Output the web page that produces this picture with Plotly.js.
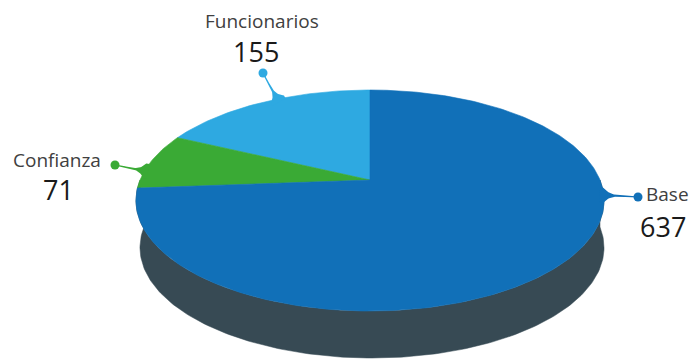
<!DOCTYPE html>
<html>
<head>
<meta charset="utf-8">
<script src="https://cdn.plot.ly/plotly-3.0.1.min.js"></script>
<style>html,body{margin:0;padding:0;background:#fff;}#chart{width:691px;height:362px;}</style>
</head>
<body>
<div id="chart"></div>
<script>
// ---- data ----
const categories = ['Funcionarios', 'Confianza', 'Base'];
const values = [155, 71, 637];
const sliceColors = ['#2ea9e1', '#3aaa35', '#1170b8'];
const sideColor = '#374a54';

// ---- geometry / style (not data) ----
const geo = { cx: 370, cy: 180, A: 230, B: 106.7, b: 0.1856, startDeg: 90,
              depth: 47, bcx: 372, bA: 228 };
// label placement: rim anchor angle (deg), dot position, text positions
const labelCfg = [
  { rim: 118, dot: [263, 73], name: [262, 21, 'center'], val: [256, 51, 'center'] },
  { rim: 175, dot: [115, 165], name: [57, 160, 'center'], val: [58, 189, 'center'] },
  { rim: 352, dot: [638, 197], name: [644, 194, 'left'], val: [638, 226, 'left'] }
];

function proj(tDeg, cx, cy, A) {
  const t = tDeg * Math.PI / 180;
  const X = Math.cos(t), Y = Math.sin(t);
  const d = 1 + geo.b * Y;
  return [cx + A * X / d, cy - geo.B * Y / d];
}

const traces = [];
// side (depth)
{
  const xs = [], ys = [];
  for (let t = 180; t <= 360; t += 1) { const p = proj(t, geo.cx, geo.cy, geo.A); xs.push(p[0]); ys.push(p[1]); }
  for (let t = 360; t >= 180; t -= 1) { const p = proj(t, geo.bcx, geo.cy + geo.depth, geo.bA); xs.push(p[0]); ys.push(p[1]); }
  traces.push({ x: xs, y: ys, mode: 'lines', fill: 'toself', fillcolor: sideColor,
    line: { width: 0.5, color: sideColor }, hoverinfo: 'skip', showlegend: false });
}
// slices
const total = values.reduce((a, v) => a + v, 0);
let ang = geo.startDeg;
values.forEach((v, i) => {
  const span = v / total * 360;
  const xs = [geo.cx], ys = [geo.cy];
  const n = Math.max(2, Math.ceil(span));
  for (let k = 0; k <= n; k++) {
    const p = proj(ang + span * k / n, geo.cx, geo.cy, geo.A);
    xs.push(p[0]); ys.push(p[1]);
  }
  xs.push(geo.cx); ys.push(geo.cy);
  traces.push({ x: xs, y: ys, mode: 'lines', fill: 'toself', fillcolor: sliceColors[i],
    line: { width: 0.6, color: sliceColors[i] }, name: categories[i],
    hoverinfo: 'text', text: categories[i] + ': ' + v, showlegend: false });
  ang += span;
});
// connectors + dots
const annotations = [];
labelCfg.forEach((c, i) => {
  const r = proj(c.rim, geo.cx, geo.cy, geo.A);
  const [dx, dy] = c.dot;
  const vx = r[0] - dx, vy = r[1] - dy;
  const L = Math.hypot(vx, vy);
  const ux = vx / L, uy = vy / L, px = -uy, py = ux;
  const left = [], right = [];
  for (let k = 0; k <= 40; k++) {
    const u = k / 40 * 1.12;
    const w = 0.6 + 7 * Math.pow(Math.min(u, 1), 7);
    const cx = dx + vx * u, cy = dy + vy * u;
    left.push([cx + px * w, cy + py * w]);
    right.push([cx - px * w, cy - py * w]);
  }
  const pts = left.concat(right.reverse());
  traces.push({ x: pts.map(p => p[0]), y: pts.map(p => p[1]), mode: 'lines', fill: 'toself',
    fillcolor: sliceColors[i], line: { width: 0, color: sliceColors[i] }, hoverinfo: 'skip', showlegend: false });
  traces.push({ x: [dx], y: [dy], mode: 'markers', marker: { size: 9, color: sliceColors[i] },
    hoverinfo: 'skip', showlegend: false });
  annotations.push({ x: c.name[0], y: c.name[1], xref: 'x', yref: 'y', text: categories[i],
    showarrow: false, xanchor: c.name[2], yanchor: 'middle',
    font: { family: 'Open Sans, sans-serif', size: 19, color: '#404040' } });
  annotations.push({ x: c.val[0], y: c.val[1], xref: 'x', yref: 'y', text: String(values[i]),
    showarrow: false, xanchor: c.val[2], yanchor: 'middle',
    font: { family: 'Open Sans, sans-serif', size: 27, color: '#1a1a1a' } });
});

const layout = {
  width: 691, height: 362,
  margin: { l: 0, r: 0, t: 0, b: 0, pad: 0 },
  paper_bgcolor: '#ffffff', plot_bgcolor: '#ffffff',
  xaxis: { range: [0, 691], visible: false, fixedrange: true },
  yaxis: { range: [362, 0], visible: false, fixedrange: true },
  annotations: annotations,
  showlegend: false
};
Plotly.newPlot('chart', traces, layout, { displayModeBar: false, staticPlot: true });
</script>
</body>
</html>
